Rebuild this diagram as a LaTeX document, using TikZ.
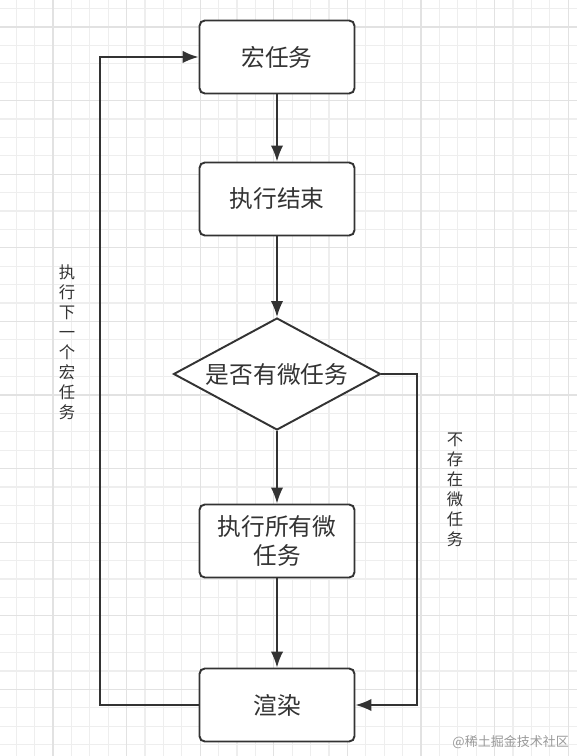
\documentclass[tikz,border=0pt]{standalone}
\usepackage{xcolor}
\usepackage{fontspec}
\setmainfont{Noto Sans CJK SC}
\usepackage{tikz}
\usetikzlibrary{shapes.geometric, arrows.meta, positioning, calc}

\definecolor{lineclr}{HTML}{333333}
\definecolor{gridminor}{HTML}{EEEEEE}
\definecolor{gridmajor}{HTML}{E2E2E2}

\begin{document}
\begin{tikzpicture}[x=0.02cm, y=-0.02cm,
    minorln/.style={draw=gridminor, line width=0.6pt},
    majorln/.style={draw=gridmajor, line width=0.7pt},
    box/.style={draw=lineclr, fill=white, line width=1.1pt, rounded corners=3pt,
                minimum width=3.1cm, minimum height=1.46cm, align=center,
                text=lineclr, font=\fontsize{13.5}{17}\selectfont},
    decide/.style={draw=lineclr, fill=white, line width=1.1pt, diamond, aspect=1.85,
                   inner sep=0pt, minimum width=4.14cm, minimum height=2.24cm,
                   text=lineclr, font=\fontsize{13.5}{17}\selectfont},
    vlabel/.style={align=center, text=lineclr, font=\fontsize{9.3}{11.4}\selectfont},
    arr/.style={draw=lineclr, line width=1.1pt, -{Latex[length=0.32cm, width=0.25cm]}}
]
\useasboundingbox (0,0) rectangle (577,756);
\fill[white] (0,0) rectangle (577,756);
\foreach \i in {0,...,30} {
    \draw[minorln] ({16.2+18.4*\i},0) -- ({16.2+18.4*\i},756);
}
\foreach \i in {0,...,40} {
    \draw[minorln] (0,{8.6+18.4*\i}) -- (577,{8.6+18.4*\i});
}
\foreach \i in {0,...,7} {
    \draw[majorln] ({53+73.6*\i},0) -- ({53+73.6*\i},756);
}
\foreach \i in {0,...,10} {
    \draw[majorln] (0,{27+73.6*\i}) -- (577,{27+73.6*\i});
}

\node[box]    (macro)  at (277,57)  {宏任务};
\node[box]    (done)   at (277,199) {执行结束};
\node[decide] (hasmic) at (277,374) {是否有微任务};
\node[box]    (runmic) at (277,541) {执行所有微\\任务};
\node[box]    (render) at (277,705) {渲染};

\coordinate (leftx)  at (100,0);
\coordinate (rightx) at (417,0);

\draw[arr] (macro) -- (done);
\draw[arr] (done) -- (hasmic);
\draw[arr] (hasmic) -- (runmic);
\draw[arr] (runmic) -- (render);
\draw[arr] (render.west) -- (render.west -| leftx) |- (macro.west);
\draw[arr] (hasmic.east) -- (hasmic.east -| rightx) |- (render.east);

\node[vlabel] (nextlbl) at (67,342) {执\\行\\下\\一\\个\\宏\\任\\务};
\node[vlabel] (nomiclbl) at (455,490) {不\\存\\在\\微\\任\\务};

\node[text=black!40, font=\fontsize{7.4}{9}\selectfont, anchor=east] (mark) at (575,742) {@稀土掘金技术社区};
\end{tikzpicture}
\end{document}
